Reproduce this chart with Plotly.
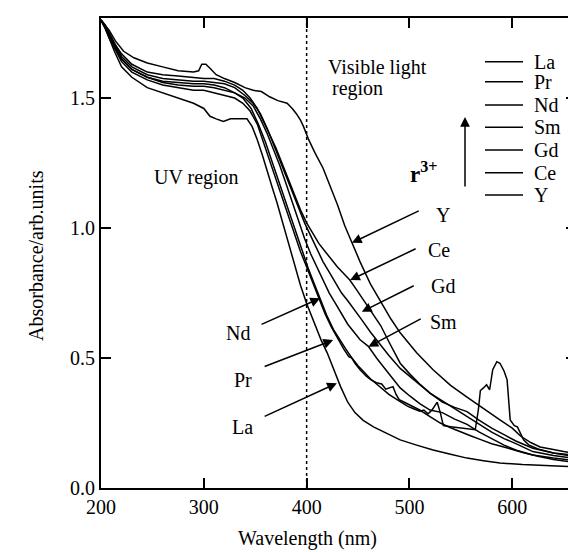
import plotly.graph_objects as go

# ---------------- data ----------------
names = ["La", "Pr", "Nd", "Sm", "Gd", "Ce", "Y"]

la_wl = [200,204,208,213,220,230,245,260,275,290,300,306,312,319,326,334,342,347,352,357,362,367,371,376,382,388,394,400,407,414,420,427,433,440,447,455,465,478,491,507,523,540,556,572,588,610,630,645,662]
la_ab = [1.80,1.77,1.73,1.68,1.62,1.58,1.54,1.52,1.50,1.48,1.46,1.43,1.42,1.41,1.42,1.42,1.42,1.39,1.34,1.28,1.21,1.15,1.10,1.03,0.94,0.86,0.78,0.71,0.64,0.57,0.52,0.45,0.39,0.33,0.29,0.26,0.235,0.21,0.185,0.165,0.146,0.13,0.115,0.105,0.096,0.09,0.087,0.085,0.081]

pr_wl = [200,204,208,213,220,230,245,260,275,290,300,310,320,330,338,345,352,358,364,370,376,382,388,394,400,406,412,418,424,430,436,441,444,447,452,458,463,468,473,477,480,484,487,490,495,502,510,520,530,540,550,560,570,580,590,600,612,625,640,662]
pr_ab = [1.80,1.77,1.73,1.69,1.64,1.60,1.57,1.55,1.54,1.53,1.53,1.52,1.51,1.50,1.48,1.45,1.40,1.33,1.26,1.19,1.12,1.05,0.98,0.91,0.85,0.79,0.73,0.67,0.62,0.575,0.535,0.505,0.50,0.48,0.455,0.43,0.415,0.405,0.40,0.38,0.385,0.39,0.36,0.34,0.33,0.315,0.30,0.275,0.25,0.232,0.215,0.20,0.185,0.17,0.16,0.148,0.135,0.122,0.11,0.098]

nd_wl = [200,204,208,213,220,230,245,260,275,290,300,310,320,330,338,346,353,360,366,372,378,384,390,396,402,408,414,420,426,432,438,444,450,456,462,468,474,480,486,492,498,504,510,514,518,522,525,527,530,533,540,548,556,564,567,569,572,575,578,581,585,588,592,595,598,602,605,611,616,625,640,662]
nd_ab = [1.80,1.77,1.74,1.70,1.65,1.61,1.58,1.56,1.55,1.545,1.545,1.54,1.53,1.52,1.50,1.46,1.40,1.33,1.26,1.19,1.12,1.05,0.98,0.91,0.84,0.78,0.72,0.66,0.61,0.57,0.535,0.50,0.47,0.445,0.42,0.40,0.38,0.36,0.345,0.33,0.315,0.305,0.295,0.30,0.285,0.30,0.32,0.33,0.29,0.24,0.236,0.232,0.228,0.224,0.30,0.375,0.385,0.397,0.378,0.455,0.486,0.48,0.45,0.416,0.262,0.24,0.235,0.185,0.166,0.15,0.135,0.125]

sm_wl = [200,204,208,213,220,230,245,260,275,290,300,310,320,330,340,348,355,362,368,374,380,386,392,398,404,410,416,422,428,434,440,446,452,460,468,476,484,491,500,510,520,532,544,556,568,580,592,604,620,640,662]
sm_ab = [1.80,1.77,1.74,1.70,1.65,1.61,1.58,1.565,1.56,1.555,1.555,1.55,1.54,1.52,1.50,1.47,1.42,1.36,1.30,1.24,1.17,1.10,1.03,0.96,0.90,0.85,0.80,0.75,0.71,0.67,0.63,0.60,0.57,0.545,0.50,0.46,0.42,0.385,0.355,0.325,0.30,0.29,0.265,0.245,0.215,0.19,0.165,0.145,0.127,0.115,0.105]

gd_wl = [200,204,208,213,220,230,245,260,275,290,300,310,320,330,340,348,355,362,368,374,380,386,392,398,404,410,416,422,428,434,440,447,454,462,470,480,491,500,510,520,532,544,556,568,580,592,604,620,640,662]
gd_ab = [1.80,1.78,1.75,1.71,1.66,1.62,1.59,1.575,1.57,1.565,1.565,1.56,1.555,1.54,1.51,1.48,1.44,1.38,1.32,1.26,1.20,1.14,1.08,1.02,0.97,0.92,0.87,0.83,0.79,0.75,0.72,0.68,0.645,0.60,0.56,0.51,0.46,0.43,0.395,0.365,0.335,0.305,0.275,0.245,0.215,0.19,0.17,0.14,0.125,0.113]

ce_wl = [200,204,208,213,220,230,245,260,275,290,300,310,320,330,338,345,352,358,364,370,376,382,388,394,400,406,412,418,424,430,436,442,449,456,464,472,481,491,500,510,520,532,544,556,568,580,592,604,620,640,662]
ce_ab = [1.80,1.78,1.75,1.71,1.67,1.63,1.60,1.59,1.585,1.58,1.575,1.575,1.565,1.55,1.53,1.50,1.46,1.41,1.36,1.31,1.25,1.19,1.13,1.07,1.02,0.98,0.94,0.91,0.88,0.85,0.825,0.80,0.76,0.72,0.67,0.625,0.555,0.48,0.44,0.40,0.365,0.33,0.31,0.294,0.26,0.23,0.205,0.18,0.153,0.135,0.12]

y_wl = [200,204,208,214,222,232,245,260,275,290,295,298,302,306,312,320,330,340,348,356,364,372,381,386,390,394,397,402,408,416,423,430,437,444,452,462,472,482,491,507,523,540,556,572,588,600,608,618,627,640,650,662]
y_ab = [1.80,1.78,1.76,1.72,1.68,1.655,1.635,1.62,1.605,1.60,1.605,1.63,1.63,1.615,1.59,1.575,1.56,1.54,1.53,1.525,1.505,1.49,1.48,1.46,1.44,1.415,1.39,1.34,1.29,1.23,1.16,1.09,1.01,0.945,0.87,0.785,0.715,0.65,0.597,0.52,0.455,0.395,0.35,0.305,0.262,0.23,0.20,0.175,0.158,0.148,0.14,0.134]

series_wl = [la_wl, pr_wl, nd_wl, sm_wl, gd_wl, ce_wl, y_wl]
series_ab = [la_ab, pr_ab, nd_ab, sm_ab, gd_ab, ce_ab, y_ab]

x_ticks = [200, 300, 400, 500, 600]
y_ticks = [0.0, 0.5, 1.0, 1.5]

# label arrows: (name, tip_x, tip_y, tail_x, tail_y, text_x, text_y)
arrow_labels = [
    ("Y", 444.0, 0.943, 510.5, 1.069, 533.0, 1.050),
    ("Ce", 442.3, 0.800, 507.5, 0.923, 528.5, 0.915),
    ("Gd", 453.7, 0.678, 505.6, 0.781, 533.0, 0.777),
    ("Sm", 460.1, 0.543, 512.4, 0.654, 533.0, 0.638),
    ("Nd", 413.1, 0.730, 354.7, 0.627, 333.3, 0.596),
    ("Pr", 425.8, 0.569, 357.7, 0.465, 338.2, 0.415),
    ("La", 429.4, 0.403, 357.7, 0.273, 337.2, 0.235),
]

FONT = "Liberation Serif"
# plot area in page pixels: x 101..576, y 18..488 (page body has an 8px margin)
PL, PR, PT, PB = 101, 576, 18, 488
PW, PH = PR - PL, PB - PT


def px(x):
    return (x - PL) / PW


def py(y):
    return (PB - y) / PH


fig = go.Figure()
for nm, wl, ab in zip(names, series_wl, series_ab):
    fig.add_trace(go.Scatter(x=wl, y=ab, mode="lines", name=nm,
                             line=dict(color="black", width=1.5),
                             showlegend=False))

shapes = [dict(type="line", xref="x", yref="paper", x0=400, x1=400, y0=0, y1=1,
               line=dict(color="black", width=1.5, dash="dot"))]
annotations = []

# manual legend
leg_rows_py = [61.7, 81.7, 105, 127.3, 150, 172.7, 195]
for nm, ry in zip(names, leg_rows_py):
    yp = py(ry)
    shapes.append(dict(type="line", xref="paper", yref="paper",
                       x0=px(485), x1=px(523), y0=yp, y1=yp,
                       line=dict(color="black", width=1.5)))
    annotations.append(dict(xref="paper", yref="paper", x=px(532), y=yp,
                            text=nm, showarrow=False, xanchor="left", yanchor="middle",
                            font=dict(family=FONT, size=20, color="black")))

for nm, tx, ty, ax, ay, lx, ly in arrow_labels:
    annotations.append(dict(x=tx, y=ty, ax=ax, ay=ay, axref="x", ayref="y",
                            xref="x", yref="y", text="", showarrow=True,
                            arrowhead=2, arrowsize=1.3, arrowwidth=1.5, arrowcolor="black"))
    annotations.append(dict(x=lx, y=ly, xref="x", yref="y", text=nm, showarrow=False,
                            font=dict(family=FONT, size=20, color="black")))

# r3+ arrow
annotations.append(dict(xref="paper", yref="paper", x=px(465), y=py(117),
                        ax=0, ay=71, text="", showarrow=True, arrowhead=2, arrowsize=1.3,
                        arrowwidth=1.5, arrowcolor="black"))
annotations.append(dict(xref="paper", yref="paper", x=px(439), y=py(156),
                        text="<b>r<sup>3+</sup></b>", showarrow=False,
                        font=dict(family=FONT, size=23, color="black")))

# region texts
annotations.append(dict(x=292.5, y=1.196, xref="x", yref="y", text="UV region", showarrow=False,
                        font=dict(family=FONT, size=20, color="black")))
annotations.append(dict(x=418.5, y=1.619, xref="x", yref="y", text="Visible light", showarrow=False,
                        xanchor="left", font=dict(family=FONT, size=20, color="black")))
annotations.append(dict(x=423.0, y=1.538, xref="x", yref="y", text="region", showarrow=False,
                        xanchor="left", font=dict(family=FONT, size=20, color="black")))

# axis titles
annotations.append(dict(xref="paper", yref="paper", x=px(23), y=py(256),
                        text="Absorbance/arb.units", textangle=-90, showarrow=False,
                        font=dict(family=FONT, size=20, color="black")))
annotations.append(dict(xref="x", yref="paper", x=400.5, y=py(538),
                        text="Wavelength (nm)", showarrow=False, yanchor="middle", borderpad=0,
                        font=dict(family=FONT, size=20, color="black")))

# figure is offset by the page's 8px body margin
OFF = 8
fig.update_layout(
    width=576 - OFF, height=552 - OFF,
    margin=dict(l=PL - OFF, r=0, t=PT - OFF, b=(552 - OFF) - (PB - OFF)),
    paper_bgcolor="white", plot_bgcolor="white",
    font=dict(family=FONT, size=20, color="black"),
    shapes=shapes, annotations=annotations,
    xaxis=dict(range=[200, 662], tickvals=x_ticks, ticks="inside", ticklen=10, tickwidth=1.5,
               tickcolor="black", showline=True, linecolor="black", linewidth=2, mirror="ticks",
               showgrid=False, zeroline=False, automargin=False,
               tickfont=dict(family=FONT, size=20, color="black")),
    yaxis=dict(range=[0, 1.808], tickvals=y_ticks, tickformat=".1f", ticks="inside", ticklen=10,
               tickwidth=1.5, tickcolor="black", showline=True, linecolor="black", linewidth=2,
               mirror="ticks", showgrid=False, zeroline=False, automargin=False,
               tickfont=dict(family=FONT, size=20, color="black")),
)

fig.write_html("out.html")
